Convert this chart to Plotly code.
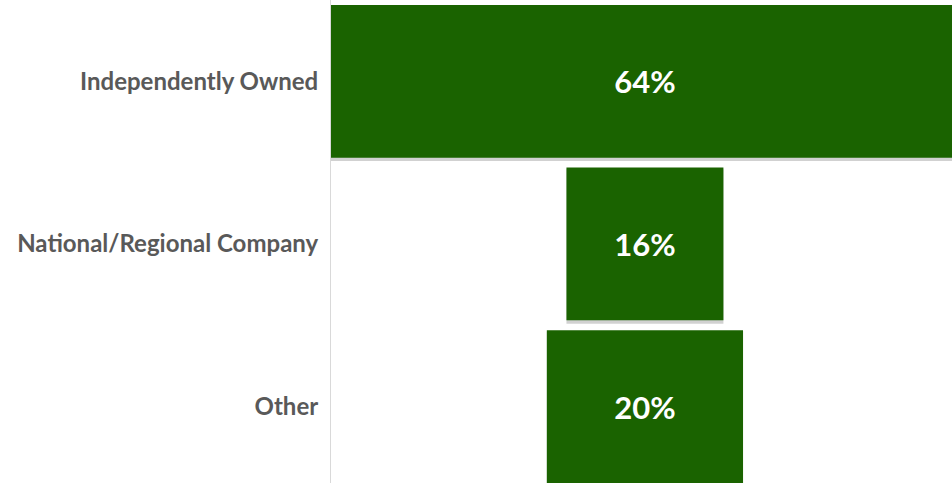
import plotly.graph_objects as go

categorias = ['Independently Owned', 'National/Regional Company', 'Other']
porcentajes = [64, 16, 20]

fig = go.Figure()

# Sombra suave detrás de cada barra
fig.add_trace(go.Funnel(
    y=categorias,
    x=porcentajes,
    marker=dict(color='rgba(0,0,0,0.18)', line=dict(width=0)),
    connector=dict(visible=False),
    textinfo='none',
    hoverinfo='skip',
    offset=-0.46,
    width=0.95,
    showlegend=False
))

fig.add_trace(go.Funnel(
    y=categorias,
    x=porcentajes,
    marker=dict(color='#1a6300', line=dict(width=0)),
    connector=dict(visible=False),
    texttemplate='<b>%{x}%</b>',
    textposition='inside',
    insidetextanchor='middle',
    textfont=dict(family='Lato', size=31, color='white'),
    width=0.94,
    offset=-0.47,
    showlegend=False
))

fig.update_layout(
    width=952,
    height=483,
    margin=dict(l=331, r=0, t=0, b=0),
    paper_bgcolor='white',
    plot_bgcolor='white',
    font=dict(family='Lato', size=20, color='#595959'),
    funnelmode='overlay',
    showlegend=False
)

fig.update_xaxes(
    range=[-32, 31.3],
    showgrid=False, zeroline=False, showticklabels=False, visible=False
)

fig.update_yaxes(
    range=[2.47, -0.5],
    showgrid=False, zeroline=False,
    showline=True, linecolor='#d9d9d9', linewidth=1,
    ticks='', ticklabelstandoff=7,
    tickfont=dict(family='Lato', size=24, color='#595959', weight='bold')
)

fig.write_html('out.html', config={'displayModeBar': False},
               post_script="document.body.style.margin='0';")
